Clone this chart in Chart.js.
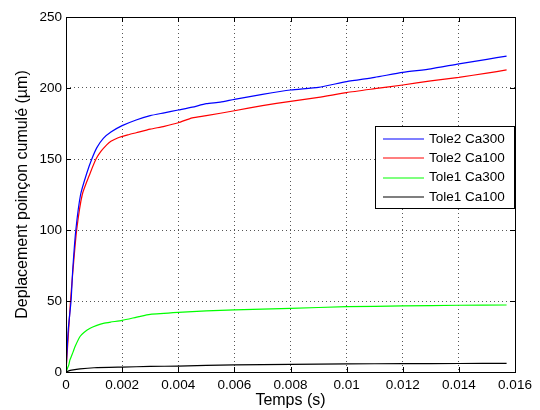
<!DOCTYPE html>
<html>
<head>
<meta charset="utf-8">
<script src="https://cdn.jsdelivr.net/npm/chart.js@4"></script>
<style>
  html, body { margin: 0; padding: 0; background: #fff; }
  #wrap { width: 540px; height: 410px; }
</style>
</head>
<body>
<div id="wrap"><canvas id="chart" width="540" height="410"></canvas></div>
<script>
// ── DATA ──────────────────────────────────────────────
const seriesLabels = ["Tole2 Ca300", "Tole2 Ca100", "Tole1 Ca300", "Tole1 Ca100"];
const seriesColors = ["#0000ff", "#ff0000", "#00ff00", "#000000"];

const tole2Ca300T = [0, 0.00003, 0.00008, 0.00018, 0.00024, 0.00035, 0.00052, 0.00074, 0.00092, 0.0011,
                     0.00133, 0.0016, 0.002, 0.0025, 0.003, 0.0035, 0.004, 0.0045, 0.005, 0.0055,
                     0.006, 0.007, 0.008, 0.009, 0.01, 0.011, 0.012, 0.013, 0.014, 0.015, 0.0157];
const tole2Ca300V = [0, 12, 30, 50, 72, 100, 125, 140, 150, 158,
                     164.5, 169, 173.5, 177.5, 180.5, 182.5, 184.5, 186.5, 189, 190,
                     192, 195.5, 198.6, 200.5, 204.5, 207.5, 211, 213.5, 217, 220.2, 222.5];

const tole2Ca100T = [0, 0.00003, 0.00008, 0.00016, 0.00025, 0.00038, 0.00058, 0.00086, 0.00107, 0.00125,
                     0.00145, 0.0016, 0.00186, 0.0022, 0.0025, 0.003, 0.0035, 0.004, 0.0045, 0.005,
                     0.006, 0.007, 0.008, 0.009, 0.01, 0.011, 0.012, 0.013, 0.014, 0.015, 0.0157];
const tole2Ca100V = [0, 10, 25, 50, 72, 100, 125, 140, 150, 155.5,
                     160, 162.5, 165, 167, 168.5, 171, 173, 175.5, 179, 180.5,
                     184, 187.6, 190.6, 193.4, 196.8, 199.5, 202.1, 205, 207.5, 210.5, 212.7];

const tole1Ca300T = [0, 0.00005, 0.0001, 0.00014, 0.00025, 0.00032, 0.0005, 0.00065, 0.00086, 0.0011,
                     0.00133, 0.0016, 0.002, 0.0026, 0.003, 0.004, 0.005, 0.006, 0.008, 0.01,
                     0.012, 0.014, 0.0157];
const tole1Ca300V = [0, 2.5, 5, 8.5, 14, 17.8, 25, 28, 30.8, 32.8,
                     34.3, 35.2, 36.3, 39, 40.6, 42, 43, 43.8, 44.8, 46,
                     46.5, 47, 47.2];

const tole1Ca100T = [0, 0.0001, 0.0002, 0.0005, 0.001, 0.002, 0.003, 0.004, 0.006, 0.008,
                     0.01, 0.012, 0.014, 0.0157];
const tole1Ca100V = [0, 0.8, 1.3, 2.2, 3, 3.5, 3.9, 4.2, 5, 5.4,
                     5.7, 5.9, 6, 6.1];

const seriesT = [tole2Ca300T, tole2Ca100T, tole1Ca300T, tole1Ca100T];
const seriesV = [tole2Ca300V, tole2Ca100V, tole1Ca300V, tole1Ca100V];

const xTitle = "Temps (s)";
const yTitle = "Deplacement poinçon cumulé (µm)";

// ── STYLE ─────────────────────────────────────────────
const FONT = "'Liberation Sans', Arial, Helvetica, sans-serif";
const GRID = "#555";

// frame + inward ticks on all four sides (matlab style)
const framePlugin = {
  id: "frame",
  afterDatasetsDraw(chart) {
    const { ctx, chartArea: a, scales } = chart;
    const len = 5;
    ctx.save();
    ctx.strokeStyle = "#000";
    ctx.lineWidth = 1;
    ctx.beginPath();
    scales.x.ticks.forEach(t => {
      const px = Math.round(scales.x.getPixelForValue(t.value)) + 0.5;
      ctx.moveTo(px, a.bottom); ctx.lineTo(px, a.bottom - len);
      ctx.moveTo(px, a.top);    ctx.lineTo(px, a.top + len);
    });
    scales.y.ticks.forEach(t => {
      const py = Math.round(scales.y.getPixelForValue(t.value)) + 0.5;
      ctx.moveTo(a.left, py);  ctx.lineTo(a.left + len, py);
      ctx.moveTo(a.right, py); ctx.lineTo(a.right - len, py);
    });
    ctx.stroke();
    ctx.strokeRect(Math.round(a.left) + 0.5, Math.round(a.top) + 0.5,
                   Math.round(a.right - a.left), Math.round(a.bottom - a.top));
    ctx.restore();
  }
};

// boxed legend inside the axes
const boxLegend = {
  id: "boxLegend",
  afterDraw(chart, args, opts) {
    const { ctx } = chart;
    ctx.save();
    ctx.fillStyle = "#fff";
    ctx.fillRect(opts.x, opts.y, opts.w, opts.h);
    ctx.strokeStyle = "#000";
    ctx.lineWidth = 1;
    ctx.strokeRect(opts.x + 0.5, opts.y + 0.5, opts.w, opts.h);
    ctx.font = "13.5px " + FONT;
    ctx.textBaseline = "middle";
    ctx.fillStyle = "#000";
    chart.data.datasets.forEach((ds, i) => {
      const y = opts.y + opts.first + i * opts.row;
      ctx.strokeStyle = ds.borderColor;
      ctx.lineWidth = 1.2;
      ctx.beginPath();
      ctx.moveTo(opts.x + 8, Math.round(y));
      ctx.lineTo(opts.x + 49, Math.round(y));
      ctx.stroke();
      ctx.fillText(ds.label, opts.x + 54, y);
    });
    ctx.restore();
  }
};

new Chart(document.getElementById("chart"), {
  type: "line",
  data: {
    datasets: seriesLabels.map((label, i) => ({
      label,
      data: seriesT[i].map((t, j) => ({ x: t, y: seriesV[i][j] })),
      borderColor: seriesColors[i],
      backgroundColor: seriesColors[i],
      borderWidth: 1.2,
      pointRadius: 0,
      tension: 0.2,
      fill: false
    }))
  },
  options: {
    responsive: false,
    animation: false,
    layout: { padding: { top: 17, right: 25, left: 0, bottom: 0 } },
    plugins: {
      legend: { display: false },
      tooltip: { enabled: false },
      boxLegend: { x: 375, y: 126, w: 139, h: 82, first: 13, row: 19.3 }
    },
    scales: {
      x: {
        type: "linear",
        min: 0, max: 0.016,
        ticks: {
          stepSize: 0.002,
          color: "#000",
          padding: 5,
          maxRotation: 0,
          font: { family: FONT, size: 13.5 },
          callback: v => String(Number(v.toFixed(3)))
        },
        grid: { color: GRID, drawTicks: false },
        border: { display: false, dash: [1, 3] },
        title: {
          display: true, text: xTitle, color: "#000",
          font: { family: FONT, size: 16 },
          padding: { top: 0, bottom: 0 }
        },
        afterFit: s => { s.height = 38; }
      },
      y: {
        min: 0, max: 250,
        ticks: {
          stepSize: 50,
          color: "#000",
          padding: 4,
          font: { family: FONT, size: 13.5 }
        },
        grid: { color: GRID, drawTicks: false },
        border: { display: false, dash: [1, 3] },
        title: {
          display: true, text: yTitle, color: "#000",
          font: { family: FONT, size: 16 },
          padding: { top: 13, bottom: 0 }
        },
        afterFit: s => { s.width = 66; }
      }
    }
  },
  plugins: [framePlugin, boxLegend]
});
</script>
</body>
</html>
